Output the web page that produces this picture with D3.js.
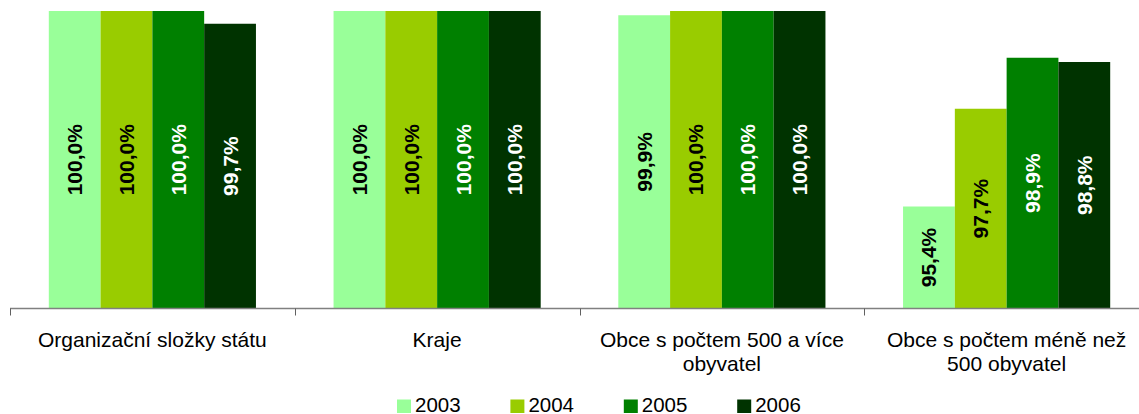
<!DOCTYPE html>
<html>
<head>
<meta charset="utf-8">
<script src="https://cdn.jsdelivr.net/npm/d3@7"></script>
<style>
  html, body { margin: 0; padding: 0; background: #fff; }
  svg { display: block; font-family: "Liberation Sans", Arial, sans-serif; }
</style>
</head>
<body>
<svg id="chart" width="1139" height="414"></svg>
<script>
const categories = [
  "Organizační složky státu",
  "Kraje",
  "Obce s počtem 500 a více\nobyvatel",
  "Obce s počtem méně než\n500 obyvatel"
];
const years = ["2003", "2004", "2005", "2006"];
const v2003 = [100.0, 100.0, 99.9, 95.4];
const v2004 = [100.0, 100.0, 100.0, 97.7];
const v2005 = [100.0, 100.0, 100.0, 98.9];
const v2006 = [99.7, 100.0, 100.0, 98.8];
const seriesValues = [v2003, v2004, v2005, v2006];
const colors = ["#99FF99", "#99CC00", "#008000", "#003300"];
const labelColors = ["#000000", "#000000", "#ffffff", "#ffffff"];
const yDomain = [93, 100];

const svg = d3.select("#chart");

const x0 = d3.scaleBand().domain(categories).range([10, 1149]).paddingInner(0).paddingOuter(0);
const x1 = d3.scaleBand().domain(years).range([38.8, x0.bandwidth() - 38.8]).padding(0);
const y = d3.scaleLinear().domain(yDomain).range([308.5, 11]);

const data = [];
categories.forEach((c, ci) => {
  years.forEach((yr, si) => {
    data.push({ cat: c, year: yr, si, value: seriesValues[si][ci] });
  });
});

const fmt = v => d3.format(".1f")(v).replace(".", ",") + "%";

const g = svg.append("g");

g.selectAll("rect.bar")
  .data(data)
  .join("rect")
  .attr("class", "bar")
  .attr("x", d => x0(d.cat) + x1(d.year))
  .attr("y", d => y(d.value))
  .attr("width", x1.bandwidth())
  .attr("height", d => y(yDomain[0]) - y(d.value))
  .attr("fill", d => colors[d.si]);

g.selectAll("text.val")
  .data(data)
  .join("text")
  .attr("class", "val")
  .attr("transform", d => {
    const cx = x0(d.cat) + x1(d.year) + x1.bandwidth() / 2;
    const cy = (y(d.value) + y(yDomain[0])) / 2;
    return `translate(${cx},${cy}) rotate(-90)`;
  })
  .attr("text-anchor", "middle")
  .attr("dominant-baseline", "central")
  .attr("font-size", 21)
  .attr("font-weight", "bold")
  .attr("fill", d => labelColors[d.si])
  .text(d => fmt(d.value));

// category axis
const axisY = y(yDomain[0]);
const ax = svg.append("g");
ax.append("line")
  .attr("x1", x0.range()[0]).attr("x2", x0.range()[1])
  .attr("y1", axisY).attr("y2", axisY)
  .attr("stroke", "#808080").attr("stroke-width", 1.5);
const boundaries = categories.map(c => x0(c)).concat([x0.range()[1]]);
ax.selectAll("line.tick")
  .data(boundaries)
  .join("line")
  .attr("class", "tick")
  .attr("x1", d => Math.round(d) + 0.5).attr("x2", d => Math.round(d) + 0.5)
  .attr("y1", axisY).attr("y2", axisY + 7)
  .attr("stroke", "#606060").attr("stroke-width", 1);

const catText = ax.selectAll("text.cat")
  .data(categories)
  .join("text")
  .attr("class", "cat")
  .attr("x", d => x0(d) + x0.bandwidth() / 2)
  .attr("y", 347)
  .attr("text-anchor", "middle")
  .attr("font-size", 21)
  .attr("fill", "#000");
catText.each(function(d) {
  const lines = d.split("\n");
  const t = d3.select(this);
  lines.forEach((ln, i) => {
    t.append("tspan")
      .attr("x", x0(d) + x0.bandwidth() / 2)
      .attr("dy", i === 0 ? 0 : 24)
      .text(ln);
  });
});

// legend
const legend = svg.append("g").attr("transform", "translate(397,0)");
const items = legend.selectAll("g.item")
  .data(years)
  .join("g")
  .attr("class", "item")
  .attr("transform", (d, i) => `translate(${i * 113.4},0)`);
items.append("rect")
  .attr("x", 0).attr("y", 399.5)
  .attr("width", 14).attr("height", 13.5)
  .attr("fill", (d, i) => colors[i]);
items.append("text")
  .attr("x", 18).attr("y", 412)
  .attr("font-size", 20.5)
  .attr("fill", "#000")
  .text(d => d);
</script>
</body>
</html>
